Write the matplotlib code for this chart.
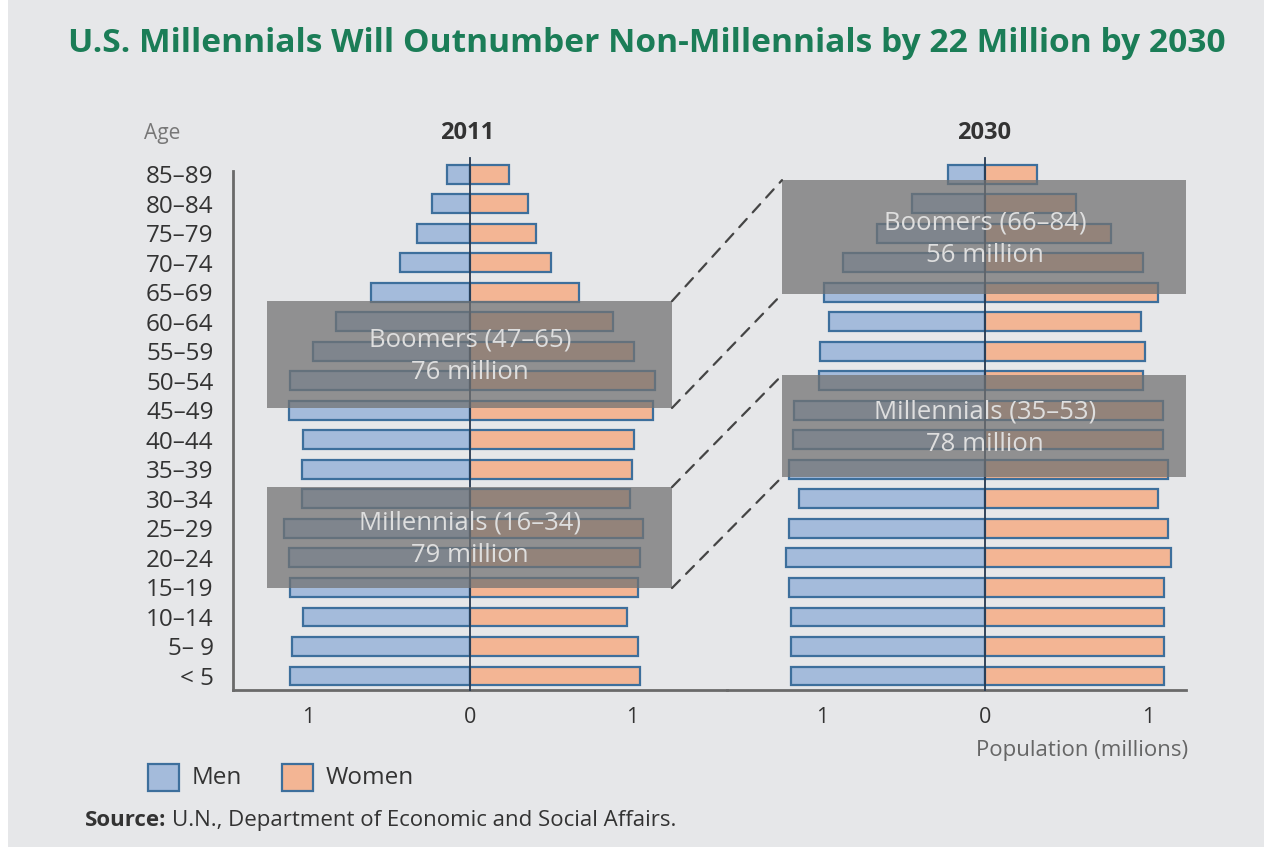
import matplotlib
matplotlib.use("Agg")
import matplotlib.pyplot as plt
from matplotlib.patches import Rectangle, ConnectionPatch
import numpy as np

plt.rcParams['font.family'] = ['Open Sans', 'DejaVu Sans']

# ---------------- data ----------------
ages = ["< 5", "5\u2013 9", "10\u201314", "15\u201319", "20\u201324", "25\u201329", "30\u201334",
        "35\u201339", "40\u201344", "45\u201349", "50\u201354", "55\u201359", "60\u201364",
        "65\u201369", "70\u201374", "75\u201379", "80\u201384", "85\u201389"]

men_2011 = [1.11, 1.10, 1.03, 1.11, 1.12, 1.15, 1.04, 1.04, 1.03, 1.12, 1.11, 0.97, 0.83,
            0.61, 0.43, 0.33, 0.235, 0.14]
women_2011 = [1.05, 1.04, 0.97, 1.04, 1.05, 1.07, 0.99, 1.00, 1.01, 1.13, 1.14, 1.01, 0.88,
              0.67, 0.50, 0.41, 0.36, 0.24]

men_2030 = [1.19, 1.19, 1.19, 1.20, 1.22, 1.20, 1.14, 1.20, 1.18, 1.17, 1.02, 1.01, 0.96,
            0.99, 0.87, 0.66, 0.45, 0.23]
women_2030 = [1.10, 1.10, 1.10, 1.10, 1.14, 1.12, 1.06, 1.12, 1.09, 1.09, 0.97, 0.98, 0.96,
              1.06, 0.97, 0.77, 0.56, 0.32]

xtick_vals = [-1, 0, 1]
xtick_labels = ["1", "0", "1"]

# cohort boxes: (label, count, y_low, y_high)
boxes_2011 = [("Boomers (47\u201365)", "76 million", 9.08, 12.70),
              ("Millennials (16\u201334)", "79 million", 2.98, 6.40)]
boxes_2030 = [("Boomers (66\u201384)", "56 million", 12.94, 16.80),
              ("Millennials (35\u201353)", "78 million", 6.74, 10.19)]

title = "U.S. Millennials Will Outnumber Non-Millennials by 22 Million by 2030"

# ---------------- styles ----------------
W, H = 1264, 847
BG = "#e6e7e9"
MEN_FC = "#a4bbdb"
WOMEN_FC = "#f3b594"
EDGE = "#3d6f9c"
TXT = "#333333"
GREEN = "#1b7d57"

fig = plt.figure(figsize=(W / 100, H / 100), dpi=100, facecolor=BG)
fig.patches.append(Rectangle((0, 0), 8 / W, 1, transform=fig.transFigure,
                             facecolor="white", edgecolor="none", zorder=0))

def fx(px):
    return px / W

def fy(py):
    return 1 - py / H

ax_bottom, ax_top = fy(690), fy(158)
split = 727
ax1 = fig.add_axes([fx(233), ax_bottom, fx(split) - fx(233), ax_top - ax_bottom])
ax2 = fig.add_axes([fx(split), ax_bottom, fx(1186) - fx(split), ax_top - ax_bottom])

ylo, yhi = -0.474, 17.55
ax1.set_xlim(-(470 - 233) / 162, (split - 470) / 162)
ax2.set_xlim(-(985 - split) / 163, (1186 - 985) / 163)

y = np.arange(len(ages))
bh = 0.64
for ax, men, women in [(ax1, men_2011, women_2011), (ax2, men_2030, women_2030)]:
    ax.set_facecolor("none")
    ax.set_ylim(ylo, yhi)
    ax.barh(y, -np.array(men), height=bh, color=MEN_FC, edgecolor=EDGE, linewidth=1.6, zorder=2)
    ax.barh(y, women, height=bh, color=WOMEN_FC, edgecolor=EDGE, linewidth=1.6, zorder=2)
    ax.plot([0, 0], [ylo, yhi], color="#263a52", lw=1.3, zorder=3, clip_on=False)
    ax.set_xticks(xtick_vals)
    ax.set_xticklabels(xtick_labels, fontsize=15.5, color=TXT)
    ax.tick_params(axis="x", length=0, pad=12)
    for s in ["top", "right", "left"]:
        ax.spines[s].set_visible(False)
    ax.spines["bottom"].set_color("#6a6a6a")
    ax.spines["bottom"].set_linewidth(2)

ax1.spines["left"].set_visible(True)
ax1.spines["left"].set_color("#6a6a6a")
ax1.spines["left"].set_linewidth(2)
ax1.spines["left"].set_bounds(ylo, 17.1)
ax1.set_yticks(y)
ax1.set_yticklabels(ages, fontsize=17.5, color=TXT)
ax1.tick_params(axis="y", length=0, pad=14)
ax2.set_yticks([])

BOX_C = "#727272"
BOX_A = 0.74
box1_x = ((267 - 470) / 162, (672 - 470) / 162)
box2_x = ((782 - 985) / 163, (1186 - 985) / 163)
for ax, boxes, bx in [(ax1, boxes_2011, box1_x), (ax2, boxes_2030, box2_x)]:
    for name, count, lo, hi in boxes:
        ax.add_patch(Rectangle((bx[0], lo), bx[1] - bx[0], hi - lo, facecolor=BOX_C,
                               alpha=BOX_A, edgecolor="none", zorder=4, clip_on=False))
        mid = (lo + hi) / 2
        ax.text(0, mid + 0.49, name, ha="center", va="center", fontsize=18.5,
                color="#dedede", zorder=5)
        ax.text(0, mid - 0.61, count, ha="center", va="center", fontsize=18.5,
                color="#dedede", zorder=5)

# dashed connectors
for b1, b2 in zip(boxes_2011, boxes_2030):
    for k in (2, 3):
        cp = ConnectionPatch(xyA=(box1_x[1], b1[k]), coordsA=ax1.transData,
                             xyB=(box2_x[0], b2[k]), coordsB=ax2.transData,
                             color="#454545", lw=1.6, linestyle=(0, (5, 4)), zorder=6)
        fig.add_artist(cp)

# texts
fig.text(fx(647), fy(43), title, ha="center", va="center", fontsize=24.1,
         fontweight="bold", color=GREEN)
fig.text(fx(162), fy(133), "Age", ha="center", va="center", fontsize=15, color="#777777")
fig.text(fx(467), fy(133), "2011", ha="center", va="center", fontsize=17,
         fontweight="bold", color=TXT)
fig.text(fx(984), fy(133), "2030", ha="center", va="center", fontsize=17,
         fontweight="bold", color=TXT)
fig.text(fx(1188), fy(750), "Population (millions)", ha="right", va="center",
         fontsize=16, color="#666666")

# legend
for x0, fc, lab in [(148, MEN_FC, "Men"), (282, WOMEN_FC, "Women")]:
    fig.patches.append(Rectangle((fx(x0), fy(791)), 31 / W, 27 / H, transform=fig.transFigure,
                                 facecolor=fc, edgecolor=EDGE, linewidth=1.6))
    fig.text(fx(x0 + 44), fy(778), lab, ha="left", va="center", fontsize=17.5, color=TXT)

src1 = fig.text(fx(85), fy(820), "Source:", ha="left", va="center", fontsize=16,
                fontweight="bold", color=TXT)
fig.text(fx(172), fy(820), "U.N., Department of Economic and Social Affairs.",
         ha="left", va="center", fontsize=16, color=TXT)

fig.savefig("out.png", dpi=100, facecolor=BG)
